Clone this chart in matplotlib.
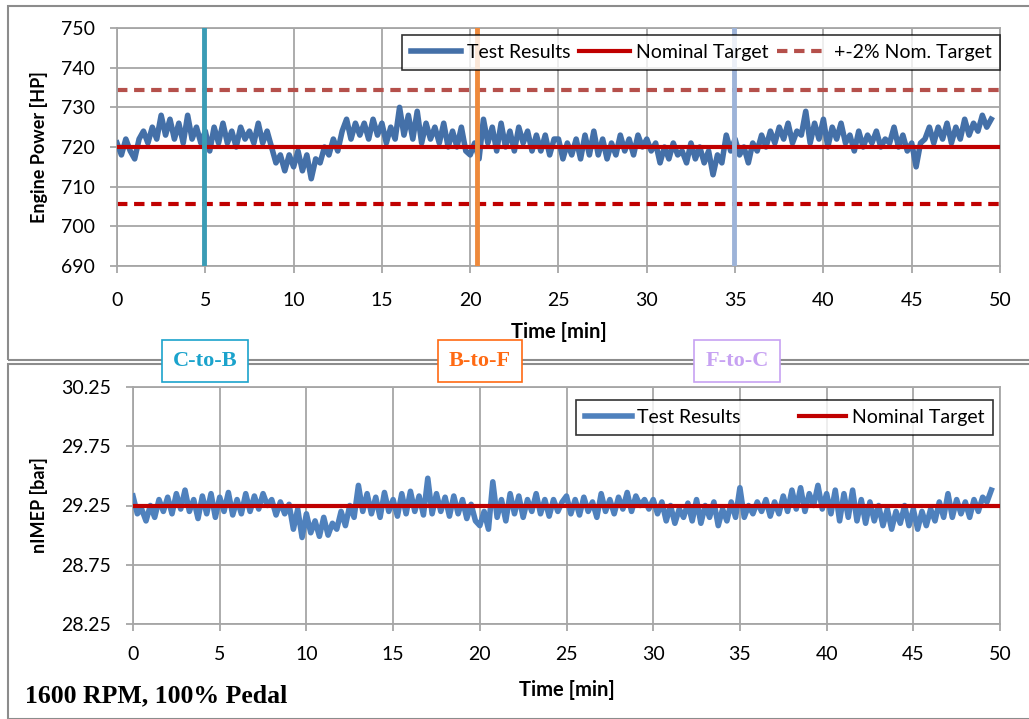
import numpy as np
import matplotlib.pyplot as plt
from matplotlib.patches import Rectangle

# engine power [HP], one value every 0.25 min
hp = [721, 718, 722, 719, 717, 722, 724, 721, 725, 722, 728, 723, 727, 722, 726, 721,
      728, 722, 725, 721, 724, 719, 725, 721, 726, 721, 724, 720, 725, 722, 724, 721,
      726, 721, 724, 720, 716, 718, 714, 718, 715, 719, 714, 718, 712, 717, 716, 720,
      718, 722, 719, 724, 727, 722, 726, 723, 726, 722, 727, 723, 726, 721, 725, 722,
      730, 723, 728, 722, 729, 721, 726, 722, 725, 721, 726, 720, 724, 720, 725, 719,
      718, 721, 717, 727, 721, 725, 719, 726, 720, 724, 719, 725, 721, 724, 719, 723,
      719, 723, 718, 722, 722, 717, 721, 718, 722, 717, 723, 718, 724, 718, 722, 717,
      721, 718, 723, 719, 722, 718, 723, 720, 722, 719, 721, 716, 720, 717, 721, 718,
      719, 716, 721, 717, 720, 716, 719, 713, 718, 716, 723, 719, 722, 718, 720, 716,
      721, 719, 723, 720, 724, 721, 725, 722, 726, 721, 724, 723, 729, 721, 726, 722,
      727, 720, 725, 722, 726, 721, 723, 719, 724, 720, 723, 721, 724, 720, 722, 721,
      725, 720, 723, 719, 721, 715, 721, 722, 725, 721, 725, 722, 726, 721, 725, 722,
      727, 723, 726, 724, 728, 725, 727]

# nIMEP [bar], one value every 0.25 min
imep = [29.33, 29.18, 29.22, 29.12, 29.25, 29.15, 29.30, 29.20, 29.32, 29.18, 29.35, 29.22,
        29.38, 29.20, 29.30, 29.14, 29.33, 29.18, 29.35, 29.15, 29.32, 29.20, 29.36, 29.17,
        29.30, 29.18, 29.35, 29.20, 29.33, 29.22, 29.35, 29.25, 29.30, 29.17, 29.28, 29.18,
        29.26, 29.05, 29.22, 28.98, 29.18, 29.02, 29.12, 28.99, 29.15, 29.00, 29.10, 29.05,
        29.20, 29.08, 29.25, 29.15, 29.42, 29.20, 29.35, 29.18, 29.32, 29.15, 29.36, 29.20,
        29.30, 29.16, 29.35, 29.18, 29.37, 29.20, 29.33, 29.17, 29.48, 29.18, 29.35, 29.20,
        29.32, 29.16, 29.33, 29.18, 29.30, 29.14, 29.26, 29.12, 29.08, 29.20, 29.05, 29.45,
        29.15, 29.30, 29.12, 29.35, 29.18, 29.33, 29.15, 29.30, 29.20, 29.35, 29.18, 29.30,
        29.16, 29.30, 29.20, 29.28, 29.33, 29.18, 29.30, 29.17, 29.32, 29.20, 29.28, 29.15,
        29.35, 29.20, 29.30, 29.18, 29.32, 29.22, 29.36, 29.20, 29.33, 29.25, 29.30, 29.22,
        29.30, 29.18, 29.28, 29.12, 29.25, 29.10, 29.22, 29.15, 29.27, 29.12, 29.30, 29.10,
        29.25, 29.15, 29.28, 29.08, 29.22, 29.12, 29.28, 29.15, 29.40, 29.15, 29.25, 29.18,
        29.28, 29.20, 29.30, 29.16, 29.28, 29.18, 29.33, 29.20, 29.38, 29.22, 29.40, 29.20,
        29.35, 29.25, 29.42, 29.22, 29.35, 29.18, 29.38, 29.12, 29.35, 29.15, 29.38, 29.12,
        29.30, 29.10, 29.28, 29.12, 29.25, 29.08, 29.22, 29.05, 29.20, 29.10, 29.25, 29.08,
        29.22, 29.05, 29.20, 29.08, 29.22, 29.12, 29.28, 29.15, 29.35, 29.15, 29.30, 29.18,
        29.28, 29.15, 29.30, 29.20, 29.32, 29.28, 29.38]

t_hp = np.arange(len(hp)) * 0.25
t_imep = np.arange(len(imep)) * 0.25

hp_nom = 720
hp_band = [hp_nom * 1.02, hp_nom * 0.98]
imep_nom = 29.25

switch_t = [4.95, 20.4, 34.95]
switch_lbl = ['C-to-B', 'B-to-F', 'F-to-C']
switch_col = ['#3A9CB5', '#EE8A3C', '#9DB3D8']
lbl_col = ['#1BA3CC', '#FF6A13', '#C7A2F2']
lbl_x = [205, 480, 737]

plt.rcParams['font.family'] = ['Lato', 'DejaVu Sans']
grid_c = '#A6A6A6'
blue = '#4470A8'
red = '#C00000'

fig = plt.figure(figsize=(10.29, 7.19), dpi=100)

# chart area frames
for (y0, h) in [(1 - 360 / 719, 354 / 719), (0, 355 / 719)]:
    fig.patches.append(Rectangle((8 / 1029, y0), 1.1, h, transform=fig.transFigure,
                                 fill=False, ec='#8C8C8C', lw=1.5))

def style(ax, xpad):
    ax.grid(True, color=grid_c, lw=1.3)
    ax.set_axisbelow(True)
    for s in ax.spines.values():
        s.set_color(grid_c)
        s.set_linewidth(1.3)
    ax.tick_params(axis='both', color=grid_c, length=5, width=1.3, labelsize=14)
    ax.tick_params(axis='y', pad=11)
    ax.tick_params(axis='x', pad=xpad)

# top panel
ax1 = fig.add_axes([117 / 1029, 1 - 266 / 719, 883 / 1029, 238 / 719])
ax1.plot(t_hp, hp, color=blue, lw=4, label='Test Results', zorder=3)
ax1.axhline(hp_nom, color=red, lw=3, label='Nominal Target', zorder=4)
ax1.axhline(hp_band[0], color='#B5504B', lw=3, ls=(0, (2.5, 1.6)), label='+-2% Nom. Target', zorder=2)
ax1.axhline(hp_band[1], color=red, lw=3, ls=(0, (2.5, 1.6)), zorder=2)
for x, c in zip(switch_t, switch_col):
    ax1.axvline(x, color=c, lw=3.5, zorder=5)
ax1.set_xlim(0, 50)
ax1.set_ylim(690, 750)
ax1.set_xticks(np.arange(0, 51, 5))
ax1.set_yticks(np.arange(690, 751, 10))
style(ax1, 14)
ax1.set_xlabel('Time [min]', fontsize=14.5, fontweight='bold', labelpad=9)
ax1.set_ylabel('Engine Power [HP]', fontsize=13, fontweight='bold', labelpad=9)
leg1 = ax1.legend(loc='upper right', ncol=3, fontsize=14, frameon=True, fancybox=False,
                  edgecolor='black', bbox_to_anchor=(1.0, 0.97), borderaxespad=0,
                  handlelength=2.6, handletextpad=0.3, columnspacing=0.45, borderpad=0.45)
leg1.get_frame().set_linewidth(1.2)
leg1.set_zorder(10)

# bottom panel
ax2 = fig.add_axes([133 / 1029, 1 - 624 / 719, 867 / 1029, 237 / 719])
ax2.plot(t_imep, imep, color='#4F81BD', lw=4, label='Test Results', zorder=3)
ax2.axhline(imep_nom, color=red, lw=3, label='Nominal Target', zorder=4)
ax2.set_xlim(0, 50)
ax2.set_ylim(28.25, 30.25)
ax2.set_xticks(np.arange(0, 51, 5))
ax2.set_yticks([28.25, 28.75, 29.25, 29.75, 30.25])
ax2.set_yticklabels(['28.25', '28.75', '29.25', '29.75', '30.25'])
style(ax2, 11)
ax2.set_xlabel('Time [min]', fontsize=14.5, fontweight='bold', labelpad=12)
ax2.set_ylabel('nIMEP [bar]', fontsize=13, fontweight='bold', labelpad=9)
leg2 = ax2.legend(loc='upper right', ncol=2, fontsize=14, frameon=True, fancybox=False,
                  edgecolor='black', bbox_to_anchor=(0.992, 0.945), borderaxespad=0,
                  handlelength=2.4, handletextpad=0.3, columnspacing=3.0, borderpad=0.45)
leg2.get_frame().set_linewidth(1.2)

# switch labels between the panels
for x, s, c in zip(lbl_x, switch_lbl, lbl_col):
    fig.text(x / 1029, 1 - 361 / 719, s, ha='center', va='center', color=c,
             fontsize=16, fontweight='bold', family=['Liberation Serif'],
             bbox=dict(boxstyle='square,pad=0.5', fc='white', ec=c, lw=1.2))

fig.text(25 / 1029, 1 - 696 / 719, '1600 RPM, 100% Pedal', ha='left', va='center',
         fontsize=18.5, fontweight='bold', family=['Liberation Serif'])

fig.savefig('out.png', dpi=100)
